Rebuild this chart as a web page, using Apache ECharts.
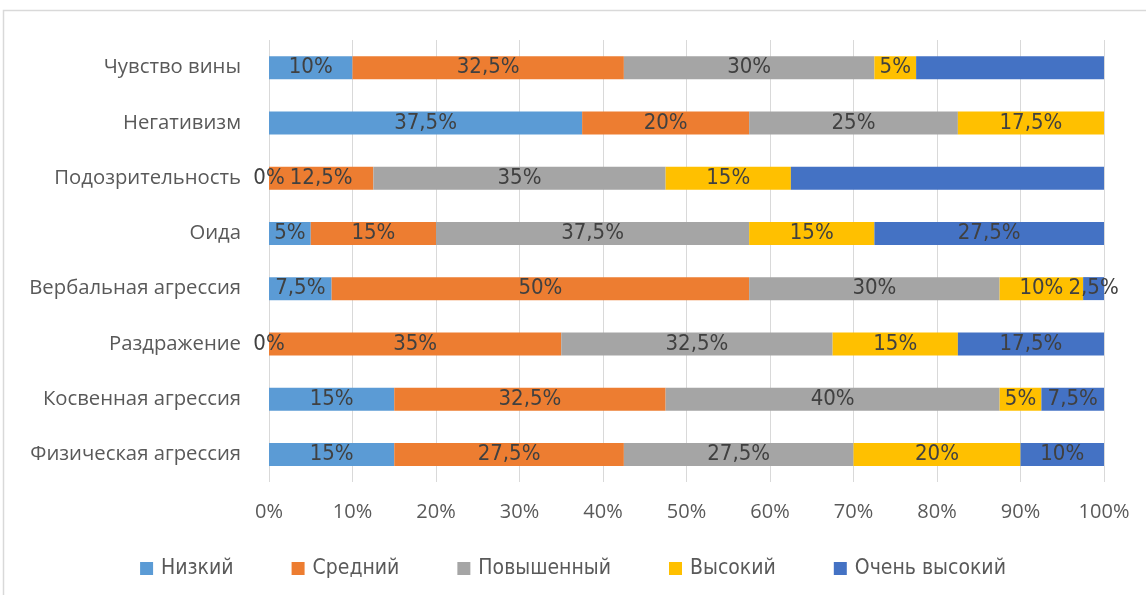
<!DOCTYPE html>
<html>
<head>
<meta charset="utf-8">
<script src="https://cdn.jsdelivr.net/npm/echarts@6/dist/echarts.min.js"></script>
<style>
html,body{margin:0;padding:0;background:#fff;}
#chart{width:1146px;height:595px;}
</style>
</head>
<body>
<div id="chart"></div>
<script>
const categories = ['Чувство вины','Негативизм','Подозрительность','Оида','Вербальная агрессия','Раздражение','Косвенная агрессия','Физическая агрессия'];
const seriesNames = ['Низкий','Средний','Повышенный','Высокий','Очень высокий'];
const low      = [10, 37.5, 0, 5, 7.5, 0, 15, 15];
const medium   = [32.5, 20, 12.5, 15, 50, 35, 32.5, 27.5];
const elevated = [30, 25, 35, 37.5, 30, 32.5, 40, 27.5];
const high     = [5, 17.5, 15, 15, 10, 15, 5, 20];
const veryHigh = [22.5, 0, 37.5, 27.5, 2.5, 17.5, 7.5, 10];
const xTicks = [0,10,20,30,40,50,60,70,80,90,100];
// labels that are not shown in the original
const unlabeled = {'Очень высокий': ['Чувство вины','Негативизм','Подозрительность']};

const colors = ['#5b9bd5','#ed7d31','#a5a5a5','#ffc000','#4472c4'];
const values = [low, medium, elevated, high, veryHigh];
const narrow = '"Liberation Sans Narrow","DejaVu Sans Condensed","Arial Narrow",sans-serif';

const chart = echarts.init(document.getElementById('chart'));
chart.setOption({
  animation:false,
  backgroundColor:'#fff',
  graphic:[{type:'rect',shape:{x:3.5,y:10.5,width:1160,height:600},style:{fill:'none',stroke:'#d9d9d9',lineWidth:1.5},silent:true}],
  grid:{left:269,right:42,top:40,bottom:113,containLabel:false},
  legend:{
    bottom:11,left:'center',itemWidth:13,itemHeight:13,itemGap:58,
    icon:'rect',
    textStyle:{fontFamily:narrow,fontSize:21,color:'#595959',padding:[0,0,0,3]},
    data:seriesNames
  },
  xAxis:{
    type:'value',min:xTicks[0],max:xTicks[xTicks.length-1],interval:xTicks[1]-xTicks[0],
    axisLine:{show:false},axisTick:{show:false},
    splitLine:{lineStyle:{color:'#d9d9d9',width:1}},
    axisLabel:{margin:20,color:'#595959',fontFamily:'"Open Sans",sans-serif',fontSize:20,
      formatter:v=>v+'%'}
  },
  yAxis:{
    type:'category',inverse:true,data:categories,
    axisLine:{show:false},axisTick:{show:false},
    axisLabel:{margin:28,color:'#595959',fontFamily:'"Open Sans",sans-serif',fontSize:20.3}
  },
  series: seriesNames.map((name,i)=>({
    name:name,type:'bar',stack:'total',barWidth:23,
    itemStyle:{color:colors[i]},
    label:{
      show:true,position:'inside',color:'#404040',fontFamily:narrow,fontSize:22,
      formatter:p=>{
        if(unlabeled[name] && unlabeled[name].includes(p.name)) return '';
        return String(p.value).replace('.',',')+'%';
      }
    },
    data: values[i]
  }))
});
</script>
</body>
</html>
